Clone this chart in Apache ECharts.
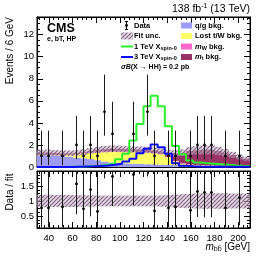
<!DOCTYPE html>
<html><head><meta charset="utf-8">
<script src="https://cdn.jsdelivr.net/npm/echarts@6/dist/echarts.min.js"></script>
<style>html,body{margin:0;padding:0;background:#fff}#c{width:266px;height:256px}</style>
</head><body><div id="c"></div>
<script>
// ---------------- data ----------------
const binCenters = [33,39,45,51,57,63,69,75,81,87,93,99,105,111,117,123,129,135,141,147,153,159,165,171,177,183,189,195,201,207];
const binWidth = 6;
const qgBkg     = [1.05,1.05,1.05,1.0,0.95,0.85,0.8,0.72,0.62,0.5,0.42,0.38,0.33,0.3,0.28,0.25,0.23,0.21,0.19,0.17,0.15,0.14,0.13,0.12,0.11,0.1,0.09,0.08,0.07,0.06];
const lostTWBkg = [0.03,0.03,0.04,0.08,0.15,0.3,0.42,0.55,0.7,0.85,0.95,1.0,1.02,1.05,1.05,1.05,1.0,0.95,0.7,0.35,0.15,0.08,0.05,0.04,0.03,0.02,0.02,0.01,0.01,0.01];
const mWBkg     = [0.02,0.02,0.02,0.03,0.03,0.04,0.05,0.06,0.07,0.08,0.08,0.08,0.07,0.06,0.05,0.05,0.04,0.04,0.03,0.03,0.03,0.02,0.02,0.02,0.02,0.01,0.01,0.01,0.01,0.01];
const mtBkg     = [0.2,0.2,0.17,0.14,0.12,0.08,0.08,0.12,0.16,0.19,0.2,0.19,0.2,0.19,0.2,0.2,0.23,0.22,0.38,0.7,0.97,1.21,1.32,1.37,1.39,1.32,1.18,1.0,0.81,0.67];
const fitUncRel = [0.21,0.21,0.2,0.2,0.2,0.2,0.19,0.19,0.18,0.18,0.18,0.18,0.18,0.18,0.18,0.18,0.18,0.19,0.2,0.21,0.23,0.24,0.25,0.26,0.26,0.26,0.26,0.25,0.25,0.25];
const signal1TeV = [0,0,0,0.01,0.02,0.03,0.05,0.08,0.12,0.2,0.33,0.7,1.2,2.4,3.9,5.5,6.45,5.5,3.7,1.9,1.15,0.6,0.4,0.35,0.3,0.25,0.2,0.15,0.12,0.1];
const signal3TeV = [0,0,0,0,0,0.02,0.04,0.06,0.1,0.14,0.2,0.3,0.5,0.75,1.25,1.65,2.05,1.8,1.2,0.35,0.12,0.06,0.04,0.03,0.03,0.02,0.02,0.02,0.02,0.02];
const dataCounts = [1,1,null,1,null,2,1,2,1,5,3,null,null,3,null,5,1,null,1,1,null,1,2,2,2,null,1,null,1,null];
const poissonLo = {1:0.17, 2:0.71, 3:1.37, 5:2.84};   // lower bound of interval
const poissonHi = {1:3.30, 2:4.64, 3:5.92, 5:8.38};   // upper bound of interval
const ratioValues = [0.77,0.77,null,0.8,null,1.57,0.74,1.38,0.65,3.09,1.82,null,null,1.88,null,3.2,0.67,null,0.77,0.8,null,0.69,1.32,1.29,1.29,null,0.77,null,1.11,null];
const mainYTicks = [0,2,4,6,8,10,12];
const ratioYTicks = [0.5,1,1.5];
const xTicks = [40,60,80,100,120,140,160,180,200];

// ---------------- helpers ----------------
const FONT = "'Liberation Sans', Arial, Helvetica, sans-serif";
const X_MIN = 30, X_MAX = 210, Y_MAX = 13.6, R_MIN = 0.1, R_MAX = 2.0;
const edges = binCenters.map(c => c - binWidth/2).concat([binCenters[binCenters.length-1] + binWidth/2]);
function stepData(vals){ return edges.map((e,i)=>[e, vals[Math.min(i, vals.length-1)]]); }
const layers = [qgBkg, lostTWBkg, mWBkg, mtBkg];
const totalBkg = binCenters.map((c,i)=>layers.reduce((s,l)=>s+l[i],0));

function makeHatch(){
  const c = document.createElement('canvas'); c.width = 4; c.height = 4;
  const g = c.getContext('2d');
  g.fillStyle = 'rgba(205,185,205,0.55)'; g.fillRect(0,0,4,4);
  g.strokeStyle = 'rgba(120,85,120,0.9)'; g.lineWidth = 1.1;
  g.beginPath();
  g.moveTo(0,4); g.lineTo(4,0);
  g.moveTo(-1,1); g.lineTo(1,-1);
  g.moveTo(3,5); g.lineTo(5,3);
  g.stroke();
  return c;
}
const hatch = {image: makeHatch(), repeat: 'repeat'};

const COLORS = {qg:'#9c9cf6', tw:'#ffff66', mw:'#ff66cc', mt:'#993366', s1:'#2cf02c', s2:'#0a0aff'};

function rectItem(fill){
  return function(params, api){
    const p0 = api.coord([api.value(0)-binWidth/2, api.value(1)]);
    const p1 = api.coord([api.value(0)+binWidth/2, api.value(2)]);
    const x0 = Math.round(p0[0]), x1 = Math.round(p1[0]);
    return {type:'rect', shape:{x:x0, y:p1[1], width:x1-x0, height:p0[1]-p1[1]}, style:{fill: fill}};
  };
}
function errItem(lo, hi){
  return function(params, api){
    const x = api.value(0);
    const yl = Math.max(api.value(2), lo), yh = Math.min(api.value(3), hi);
    const a = api.coord([x, yl]), b = api.coord([x, yh]);
    const xs = Math.round(a[0]) + 0.5;
    const children = [{type:'line', shape:{x1:xs, y1:a[1], x2:xs, y2:b[1]}, style:{stroke:'#1a1a1a', lineWidth:1}}];
    const v = api.value(1);
    if (v >= lo && v <= hi){
      const m = api.coord([x, v]);
      children.push({type:'circle', shape:{cx:xs, cy:m[1], r:1.4}, style:{fill:'#000'}});
    }
    return {type:'group', children};
  };
}

const series = [];
const layerColors = [COLORS.qg, COLORS.tw, COLORS.mw, COLORS.mt];
layers.forEach((vals, k) => series.push({
  type:'custom', xAxisIndex:0, yAxisIndex:0, z:1, silent:true, clip:true,
  data: binCenters.map((c,i)=>{
    let base = 0; for (let j=0;j<k;j++) base += layers[j][i];
    return [c, base, base + vals[i]];
  }),
  renderItem: rectItem(layerColors[k])
}));
series.push({type:'custom', xAxisIndex:0, yAxisIndex:0, z:2, silent:true, clip:true,
  data: binCenters.map((c,i)=>[c, totalBkg[i]*(1-fitUncRel[i]), totalBkg[i]*(1+fitUncRel[i])]),
  renderItem: rectItem(hatch)});
series.push({type:'line', xAxisIndex:0, yAxisIndex:0, step:'end', data:stepData(signal1TeV), symbol:'none',
  lineStyle:{color:COLORS.s1, width:2}, z:3, silent:true});
series.push({type:'line', xAxisIndex:0, yAxisIndex:0, step:'end', data:stepData(signal3TeV), symbol:'none',
  lineStyle:{color:COLORS.s2, width:2}, z:3, silent:true});
series.push({type:'custom', xAxisIndex:0, yAxisIndex:0, z:5, silent:true, clip:true,
  data: binCenters.map((c,i)=>{ const n = dataCounts[i]; return n==null?null:[c, n, poissonLo[n], poissonHi[n]]; }).filter(d=>d),
  renderItem: errItem(0, Y_MAX)});
// ratio panel
series.push({type:'custom', xAxisIndex:2, yAxisIndex:2, z:2, silent:true, clip:true,
  data: binCenters.map((c,i)=>[c, 1-fitUncRel[i], 1+fitUncRel[i]]),
  renderItem: rectItem(hatch)});
series.push({type:'custom', xAxisIndex:2, yAxisIndex:2, z:5, silent:true, clip:true,
  data: binCenters.map((c,i)=>{
    const n = dataCounts[i], r = ratioValues[i];
    if (n==null || r==null) return null;
    return [c, r, r*poissonLo[n]/n, r*poissonHi[n]/n];
  }).filter(d=>d),
  renderItem: errItem(R_MIN, R_MAX)});

const tickCommon = {inside:true, length:6, lineStyle:{color:'#000', width:1}};
const minorCommon = {show:true, length:3, lineStyle:{color:'#000', width:1}};
const lblStyle = {color:'#000', fontSize:9.5, fontFamily:FONT};
const onlyIn = list => v => list.some(t => Math.abs(t - v) < 1e-6) ? String(v) : '';
function xAx(grid, pos, labels){
  return {type:'value', gridIndex:grid, position:pos, min:X_MIN, max:X_MAX, splitNumber:9,
    axisLine:{show:true, onZero:false, lineStyle:{color:'#000'}},
    axisTick:Object.assign({}, tickCommon), minorTick:Object.assign({splitNumber:5}, minorCommon),
    splitLine:{show:false},
    axisLabel:{show:labels, margin:5, formatter:onlyIn(xTicks), ...lblStyle}};
}
function yAx(grid, pos, labels, min, max, extra, list){
  return Object.assign({type:'value', gridIndex:grid, position:pos, min:min, max:max,
    axisLine:{show:true, onZero:false, lineStyle:{color:'#000'}},
    axisTick:Object.assign({}, tickCommon), minorTick:Object.assign({splitNumber:4}, minorCommon),
    splitLine:{show:false},
    axisLabel:{show:labels, margin:3, formatter:onlyIn(list), ...lblStyle}}, extra);
}

const txt = (x, y, text, o) => ({type:'text', x, y, silent:true, z:10,
  style:Object.assign({text, fill:'#000', fontFamily:FONT, fontSize:7.5, fontWeight:'bold',
    align:'left', textAlign:'left', verticalAlign:'middle', textVerticalAlign:'middle'}, o||{})});
const richSub = {sub:{fontSize:5.5, fontWeight:'bold', fontFamily:FONT, verticalAlign:'bottom', padding:[3,0,0,0]},
                 i:{fontStyle:'italic', fontSize:7.5, fontWeight:'bold', fontFamily:FONT}};

const legendX1 = 121, legendX2 = 181;
const rows = [25.5, 36, 46.5, 57, 67];
const graphic = [
  txt(250, 9, '138 fb{sup|-1} (13 TeV)', {align:'right', textAlign:'right', fontSize:10.5, fontWeight:'normal',
      rich:{sup:{fontSize:7, fontFamily:FONT, verticalAlign:'top', padding:[0,0,6,0]}}}),
  txt(47, 29, 'CMS', {fontSize:12.5}),
  txt(47, 39.5, 'e, bT, HP', {fontSize:7}),
  {type:'line', silent:true, z:10, shape:{x1:126.5, y1:rows[0]-4, x2:126.5, y2:rows[0]+4}, style:{stroke:'#000', lineWidth:1}},
  {type:'line', silent:true, z:10, shape:{x1:125, y1:rows[0]-4, x2:128, y2:rows[0]-4}, style:{stroke:'#000', lineWidth:1}},
  {type:'line', silent:true, z:10, shape:{x1:125, y1:rows[0]+4, x2:128, y2:rows[0]+4}, style:{stroke:'#000', lineWidth:1}},
  {type:'circle', silent:true, z:10, shape:{cx:126.5, cy:rows[0], r:1.4}, style:{fill:'#000'}},
  txt(134, rows[0], 'Data'),
  {type:'rect', silent:true, z:10, shape:{x:legendX1, y:rows[1]-3.5, width:12, height:7}, style:{fill:hatch}},
  txt(134, rows[1], 'Fit unc.'),
  {type:'line', silent:true, z:10, shape:{x1:legendX1, y1:rows[2], x2:legendX1+12, y2:rows[2]}, style:{stroke:COLORS.s1, lineWidth:2}},
  txt(134, rows[2], '1 TeV X{sub|spin-0}', {rich:richSub}),
  {type:'line', silent:true, z:10, shape:{x1:legendX1, y1:rows[3], x2:legendX1+12, y2:rows[3]}, style:{stroke:COLORS.s2, lineWidth:2}},
  txt(134, rows[3], '3 TeV X{sub|spin-0}', {rich:richSub}),
  txt(121, rows[4], '{i|σB}(X → HH) = 0.2 pb', {fontSize:7, rich:{i:{fontStyle:'italic', fontSize:7, fontWeight:'bold', fontFamily:FONT}}}),
  {type:'rect', silent:true, z:10, shape:{x:legendX2, y:rows[0]-3, width:11, height:6}, style:{fill:COLORS.qg}},
  txt(195, rows[0], 'q/g bkg.'),
  {type:'rect', silent:true, z:10, shape:{x:legendX2, y:rows[1]-3, width:11, height:6}, style:{fill:COLORS.tw}},
  txt(195, rows[1], 'Lost t/W bkg.'),
  {type:'rect', silent:true, z:10, shape:{x:legendX2, y:rows[2]-3, width:11, height:6}, style:{fill:COLORS.mw}},
  txt(195, rows[2], '{i|m}{sub|W} bkg.', {rich:richSub}),
  {type:'rect', silent:true, z:10, shape:{x:legendX2, y:rows[3]-3, width:11, height:6}, style:{fill:COLORS.mt}},
  txt(195, rows[3], '{i|m}{sub|t} bkg.', {rich:richSub}),
  {type:'text', x:10, y:17, rotation:Math.PI/2, silent:true, z:10,
    style:{text:'Events / 6 GeV', fill:'#000', fontFamily:FONT, fontSize:10, align:'right', textAlign:'right', verticalAlign:'middle', textVerticalAlign:'middle'}},
  {type:'text', x:10, y:192, rotation:Math.PI/2, silent:true, z:10,
    style:{text:'Data / fit', fill:'#000', fontFamily:FONT, fontSize:10, align:'center', textAlign:'center', verticalAlign:'middle', textVerticalAlign:'middle'}},
  txt(250, 247, '{i|m}{sub|bb\u0304} [GeV]', {align:'right', textAlign:'right', fontSize:10, fontWeight:'normal',
      rich:{i:{fontStyle:'italic', fontSize:10, fontFamily:FONT}, sub:{fontSize:7, fontFamily:FONT, verticalAlign:'bottom', padding:[4,0,0,0]}}})
];

const option = {
  animation:false,
  backgroundColor:'#fff',
  grid:[
    {left:37, top:17, width:213, height:150, show:true, borderColor:'#000', borderWidth:1, backgroundColor:'transparent'},
    {left:37, top:171, width:213, height:57, show:true, borderColor:'#000', borderWidth:1, backgroundColor:'transparent'}
  ],
  xAxis:[xAx(0,'bottom',false), xAx(0,'top',false), xAx(1,'bottom',true), xAx(1,'top',false)],
  yAxis:[
    yAx(0,'left',true,0,Y_MAX,{interval:2},mainYTicks),
    yAx(0,'right',false,0,Y_MAX,{interval:2},mainYTicks),
    yAx(1,'left',true,R_MIN,R_MAX,{splitNumber:4},ratioYTicks),
    yAx(1,'right',false,R_MIN,R_MAX,{splitNumber:4},ratioYTicks)
  ],
  series,
  graphic
};
const chart = echarts.init(document.getElementById('c'), null, {renderer:'canvas'});
chart.setOption(option);
</script>
</body></html>
